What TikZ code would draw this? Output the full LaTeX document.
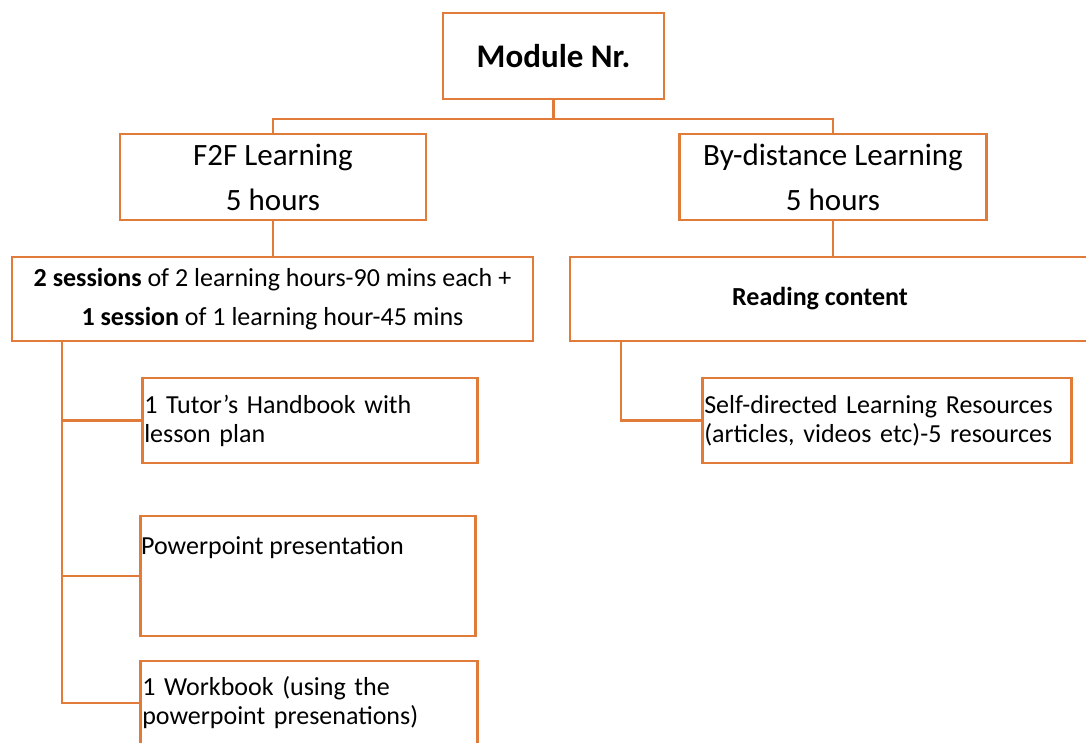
\documentclass[tikz,border=0pt]{standalone}
\usepackage{fontspec}
\setmainfont{Carlito}
\definecolor{edge}{HTML}{E07B39}
\begin{document}
\begin{tikzpicture}[
      x=1pt, y=-1pt,
      every node/.style={inner sep=0pt, font=\fontsize{26}{31}\selectfont},
      box/.style={draw=edge, line width=2.5pt, fill=white},
      head/.style={box, minimum height=86pt, align=center, font=\fontsize{31}{38}\selectfont},
      leaf/.style={box, anchor=west, align=left, inner xsep=2pt, minimum height=85pt,
        font=\fontsize{26}{29}\selectfont},
      link/.style={draw=edge, line width=2.5pt}
    ]
      \useasboundingbox (0,0) rectangle (1086,743);

      % Top of the tree and the two kinds of learning
      \node[box, minimum width=221pt, minimum height=86pt,
        font=\fontsize{33}{40}\selectfont\bfseries] (module) at (553.5,56) {Module Nr.};
      \node[head, minimum width=306pt] (f2f) at (273,177) {F2F Learning\\[7pt]5 hours};
      \node[head, minimum width=307pt] (bydist) at (833,177) {By-distance Learning\\[7pt]5 hours};

      % Second level
      \node[box, minimum width=521pt, minimum height=84pt, align=center]
        (sessions) at (272.5,299) {{\bfseries 2 sessions} of 2 learning hours-90 mins each +\\[8pt]
        {\bfseries 1 session} of 1 learning hour-45 mins};
      % This box runs off the right edge, so its text is placed on its own
      \node[box, minimum width=530pt, minimum height=84pt] (reading) at (835,299) {};
      \node[font=\fontsize{26}{31}\selectfont\bfseries] (readtext) at (820,299) {Reading content};

      % Resources under each part
      \node[leaf, text width=331pt] (handbook) at (141,420.5)
        {1 Tutor’s Handbook with\\lesson plan};
      \node[leaf, minimum width=335pt, minimum height=120pt] (ppt) at (139,576) {};
      \node[anchor=west] (ppttext) at (141,548) {Powerpoint presentation};
      \node[leaf, text width=333pt, minimum height=84pt] (workbook) at (139,703)
        {1 Workbook (using the\\powerpoint presenations)};
      \node[leaf, text width=365pt] (selfdir) at (701,420.5)
        {Self-directed Learning Resources\\(articles, videos etc)-5 resources};

      % Connectors
      \draw[link] (module.south) -- ++(0,19) coordinate (split);
      \draw[link] (f2f.north) |- (split) -| (bydist.north);
      \draw[link] (f2f.south) -- (f2f.south |- sessions.north);
      \draw[link] (bydist.south) -- (bydist.south |- reading.north);
      \path (sessions.south west) ++(51,0) coordinate (bus);
      \draw[link] (bus) |- (workbook.west);
      \draw[link] (bus |- handbook.west) -- (handbook.west);
      \draw[link] (bus |- ppt.west) -- (ppt.west);
      \path (reading.south west) ++(52,0) coordinate (rbus);
      \draw[link] (rbus) |- (selfdir.west);
    \end{tikzpicture}
\end{document}
